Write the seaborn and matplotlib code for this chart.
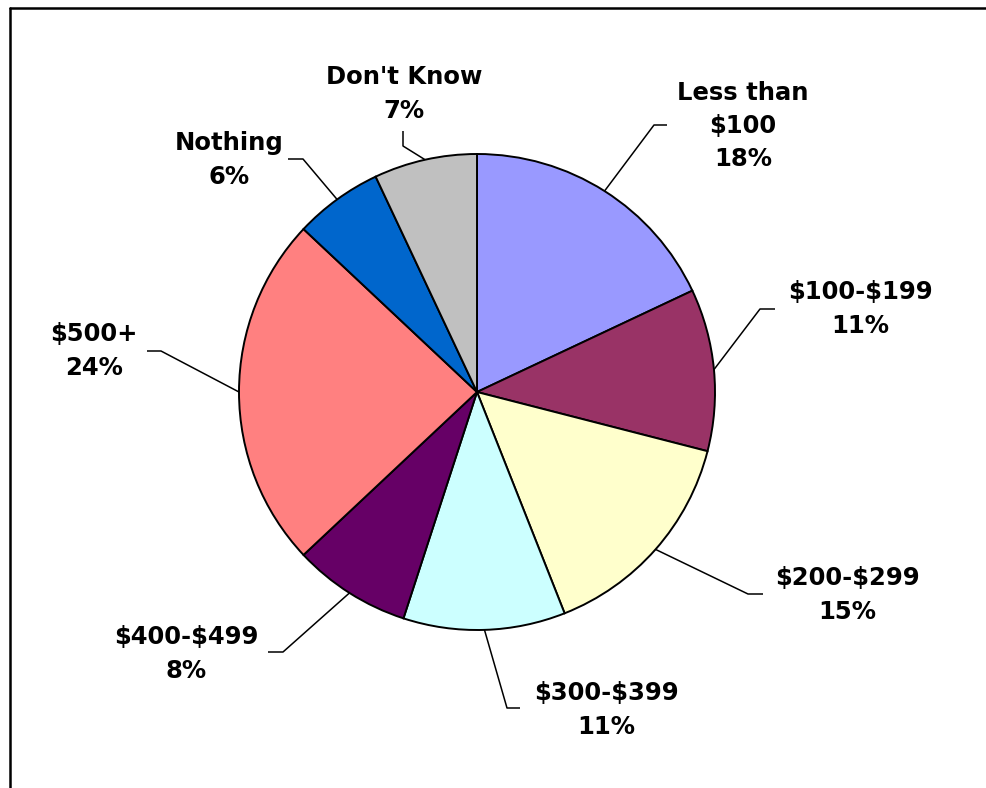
import numpy as np
import matplotlib
matplotlib.use("Agg")
import matplotlib.pyplot as plt
from matplotlib.lines import Line2D
import seaborn as sns

# Survey answers, clockwise from 12 o'clock
categories = ["Less than\n$100", "$100-$199", "$200-$299", "$300-$399",
              "$400-$499", "$500+", "Nothing", "Don't Know"]
shares = [18, 11, 15, 11, 8, 24, 6, 7]
slice_colors = ["#9999FF", "#993366", "#FFFFCC", "#CCFFFF",
                "#660066", "#FF8080", "#0066CC", "#C0C0C0"]

sns.set_theme(style="white")
plt.rcParams["font.family"] = ["DejaVu Sans"]
plt.rcParams["text.parse_math"] = False
palette = sns.color_palette(slice_colors)

W, H = 986, 788
CX, CY, R = 477, 392, 238  # pie centre and radius in pixels

fig = plt.figure(figsize=(W / 100, H / 100), dpi=100)
ax = fig.add_axes([0, 0, 1, 1])


def px(x, y):
    """Pixel position (from top-left) to data coordinates."""
    return (x - CX) / R, (CY - y) / R


wedges, _ = ax.pie(shares, colors=palette, startangle=90, counterclock=False,
                   radius=1.0, center=(0, 0),
                   wedgeprops=dict(edgecolor="black", linewidth=1.4))
ax.set_xlim(-CX / R, (W - CX) / R)
ax.set_ylim(-(H - CY) / R, CY / R)
ax.set_aspect("equal")
ax.axis("off")

# label block centres and leader elbows/ends, in pixels
label_pos = [(743, 126), (860, 309), (847, 595), (606, 710),
             (186, 654), (94, 351), (229, 160), (404, 94)]
elbows = [((654, 125), (667, 125)), ((760, 309), (775, 309)),
          ((748, 594), (763, 594)), ((507, 708), (520, 708)),
          ((283, 652), (268, 652)), ((161, 351), (147, 351)),
          ((303, 159), (288, 159)), ((403, 146), (403, 131))]

for w, name, val, lp, (e1, e2) in zip(wedges, categories, shares, label_pos, elbows):
    mid = np.deg2rad((w.theta1 + w.theta2) / 2)
    start = (np.cos(mid), np.sin(mid))
    p1 = px(*e1)
    p2 = px(*e2)
    ax.plot([start[0], p1[0], p2[0]], [start[1], p1[1], p2[1]],
            color="black", linewidth=1.1, solid_capstyle="butt")
    tx, ty = px(*lp)
    ax.text(tx, ty, f"{name}\n{val}%", ha="center", va="center",
            fontsize=17.5, fontweight="bold", linespacing=1.48, color="black")

# chart frame (left and top edges)
fig.add_artist(Line2D([10 / W, 10 / W], [0, 1 - 8 / H], transform=fig.transFigure,
                      color="black", linewidth=1.8))
fig.add_artist(Line2D([10 / W, 1], [1 - 8 / H, 1 - 8 / H], transform=fig.transFigure,
                      color="black", linewidth=1.8))

fig.savefig("out.png", dpi=100, facecolor="white")
